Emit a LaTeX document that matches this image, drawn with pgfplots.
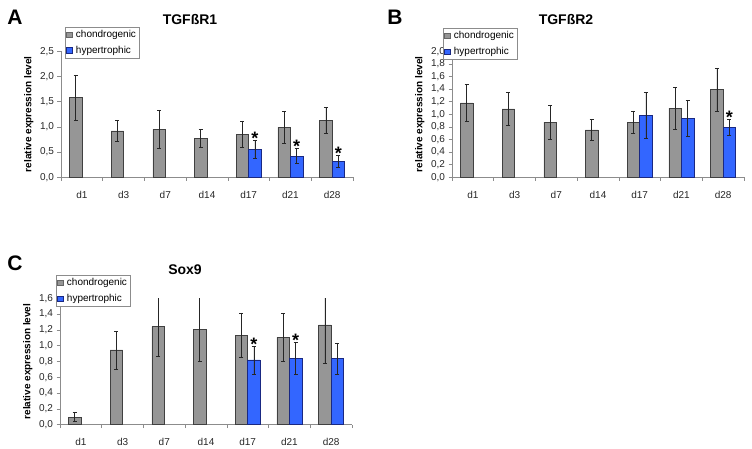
\documentclass[border=0pt]{standalone}
\usepackage{pgfplots}
\pgfplotsset{compat=1.18}
\usepackage{fontspec}
\setmainfont{Liberation Sans}
\definecolor{barGray}{RGB}{150,150,150}
\definecolor{barBlue}{RGB}{51,102,255}
\definecolor{blueEdge}{RGB}{25,40,130}
\definecolor{axGray}{RGB}{140,140,140}

\tikzset{sigstar/.style={font=\fontsize{18}{18}\selectfont\bfseries, inner sep=0pt, anchor=center, yshift=2pt}}

\pgfplotsset{
 panel/.style={
  scale only axis, width=292pt, height=126pt, anchor=south west,
  xmin=-0.5, xmax=6.5, ymin=0,
  axis x line*=bottom, axis y line*=left,
  axis line style={axGray, line width=0.6pt},
  xtick={-0.5,0.5,...,6.5},
  xticklabels={d1,d3,d7,d14,d17,d21,d28},
  x tick label as interval,
  tick align=outside, major tick length=3.5pt,
  tick style={axGray, line width=0.6pt},
  ticklabel style={font=\fontsize{10}{11}\selectfont, text=black!85},
  xticklabel style={yshift=-7pt},
  /pgf/number format/use comma,
  /pgf/number format/fixed,
  /pgf/number format/fixed zerofill,
  /pgf/number format/precision=1,
  /pgf/number format/assume math mode=true,
  ylabel={relative expression level},
  ylabel style={font=\fontsize{10}{11}\selectfont\bfseries, at={(axis description cs:-0.11,0.5)}, anchor=center},
  ybar, bar width=0.3,
  legend style={draw=axGray, font=\fontsize{10}{11}\selectfont, anchor=north west, inner sep=1.2pt, row sep=3pt},
  legend cell align=left,
  error bars/y dir=both, error bars/y explicit,
  error bars/error bar style={black!85, line width=0.6pt},
  error bars/error mark options={rotate=90, mark size=2pt, black!85, line width=0.6pt},
 },
 grayb/.style={fill=barGray, draw=black!75, line width=0.5pt, bar shift=-0.15,
   legend image code/.code={\draw[fill=barGray, draw=black!60, line width=0.4pt] (1.5pt,-2.8pt) rectangle (7.1pt,2.8pt); \path (8.6pt,0pt);}},
 blueb/.style={fill=barBlue, draw=blueEdge, line width=0.5pt, bar shift=0.15,
   legend image code/.code={\draw[fill=barBlue, draw=blueEdge, line width=0.4pt] (1.5pt,-2.8pt) rectangle (7.1pt,2.8pt); \path (8.6pt,0pt);}},
}

\pgfplotstableread{
x y e
0 1.58 0.45
1 0.92 0.21
2 0.95 0.375
3 0.77 0.18
4 0.855 0.265
5 0.99 0.32
6 1.13 0.255
}\Agray
\pgfplotstableread{
x y e
4 0.557 0.18
5 0.418 0.15
6 0.31 0.12
}\Ablue
\pgfplotstableread{
x y e
0 1.183 0.29
1 1.087 0.265
2 0.875 0.27
3 0.753 0.165
4 0.875 0.18
5 1.098 0.33
6 1.39 0.335
}\Bgray
\pgfplotstableread{
x y e
4 0.98 0.365
5 0.939 0.285
6 0.79 0.13
}\Bblue
\pgfplotstableread{
x y e
0 0.097 0.06
1 0.946 0.24
2 1.241 0.376
3 1.207 0.40
4 1.135 0.28
5 1.106 0.30
6 1.262 0.49
}\Cgray
\pgfplotstableread{
x y e
4 0.819 0.175
5 0.84 0.2
6 0.836 0.2
}\Cblue

\begin{document}
\begin{tikzpicture}[x=1pt,y=1pt]
\path[use as bounding box] (0,0) rectangle (752,449);

% Panel A
\begin{axis}[panel, at={(61pt,271.7pt)}, ymax=2.5, ytick={0,0.5,...,2.5},
  legend style={at={(axis description cs:0.0137,1.193)}}]
\addplot[grayb] table[x=x, y=y, y error=e] {\Agray};
\addplot[blueb] table[x=x, y=y, y error=e] {\Ablue};
\legend{chondrogenic, hypertrophic}
\node[sigstar] at (axis cs:4.15,0.737) {*};
\node[sigstar] at (axis cs:5.15,0.568) {*};
\node[sigstar] at (axis cs:6.15,0.43) {*};
\end{axis}

% Panel B
\begin{axis}[panel, at={(452pt,271.7pt)}, ymax=2.0, ytick={0,0.2,...,2.01},
  legend style={at={(axis description cs:-0.031,1.185)}}]
\addplot[grayb] table[x=x, y=y, y error=e] {\Bgray};
\addplot[blueb] table[x=x, y=y, y error=e] {\Bblue};
\legend{chondrogenic, hypertrophic}
\node[sigstar] at (axis cs:6.15,0.92) {*};
\end{axis}

% Panel C
\begin{axis}[panel, at={(60pt,24.3pt)}, height=126.4pt, ymax=1.6, ytick={0,0.2,...,1.61},
  legend style={at={(axis description cs:-0.0137,1.184)}}]
\addplot[grayb] table[x=x, y=y, y error=e] {\Cgray};
\addplot[blueb] table[x=x, y=y, y error=e] {\Cblue};
\legend{chondrogenic, hypertrophic}
\node[sigstar] at (axis cs:4.15,0.994) {*};
\node[sigstar] at (axis cs:5.15,1.04) {*};
\end{axis}

% titles and panel letters
\node[font=\fontsize{14}{14}\selectfont\bfseries] at (190,429) {TGFßR1};
\node[font=\fontsize{14}{14}\selectfont\bfseries] at (566,429) {TGFßR2};
\node[font=\fontsize{14}{14}\selectfont\bfseries] at (185,179) {Sox9};
\node[font=\fontsize{21}{21}\selectfont\bfseries] at (15,432) {A};
\node[font=\fontsize{21}{21}\selectfont\bfseries] at (395,432) {B};
\node[font=\fontsize{21}{21}\selectfont\bfseries] at (15,186) {C};
\end{tikzpicture}
\end{document}
